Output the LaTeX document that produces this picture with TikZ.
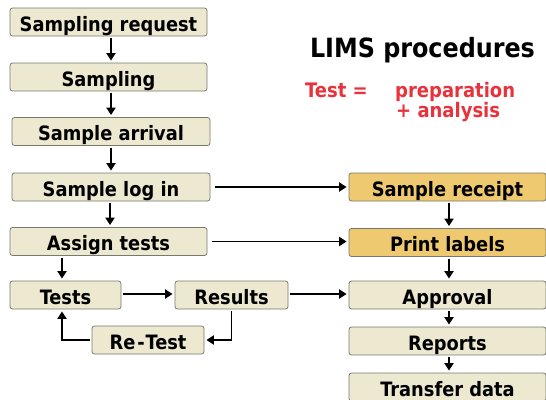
\documentclass[tikz,border=0pt]{standalone}
\usepackage{fontspec}
\setmainfont{DejaVu Sans Condensed}
\usetikzlibrary{arrows.meta}
\definecolor{beige}{RGB}{236,233,208}
\definecolor{gold}{RGB}{238,201,112}
\definecolor{bordergray}{RGB}{120,120,110}
\definecolor{redtxt}{RGB}{232,50,60}
\begin{document}
\begin{tikzpicture}[x=1pt,y=-1pt,
  box/.style={draw=bordergray, line width=0.8pt, rounded corners=2.5pt, fill=beige,
    minimum height=28pt, inner sep=0pt, text height=18.5pt, text depth=0pt,
    font=\fontsize{19.8}{19.8}\selectfont\bfseries},
  goldbox/.style={box, fill=gold},
  redlabel/.style={anchor=base west, inner sep=0pt, text=redtxt, font=\fontsize{20}{20}\selectfont\bfseries},
  arr/.style={line width=1.9pt, -{Triangle[length=7.5pt,width=9pt]}, shorten >=2pt, shorten <=2pt},
  arrh/.style={arr, shorten <=5pt}
]
\useasboundingbox (0,0) rectangle (546,399);
% left column
\node[box, minimum width=197pt] (sr) at (108.5,22) {Sampling request};
\node[box, minimum width=197pt] (s) at (108.5,77) {Sampling};
\node[box, minimum width=198pt] (sa) at (111,131.5) {Sample arrival};
\node[box, minimum width=198pt] (sl) at (111,187) {Sample log in};
\node[box, minimum width=197pt] (at) at (108.5,241.5) {Assign tests};
\node[box, minimum width=111pt] (tests) at (65.5,295) {Tests};
\node[box, minimum width=113pt] (results) at (231.5,295) {Results};
\node[box, minimum width=112pt] (retest) at (148,340) {Re\kern2pt-\kern1pt Test};
% right column
\node[goldbox, minimum width=197pt] (srec) at (447.5,187) {Sample receipt};
\node[goldbox, minimum width=197pt] (pl) at (447.5,242.5) {Print labels};
\node[box, minimum width=197pt] (ap) at (447.5,295) {Approval};
\node[box, minimum width=197pt] (rep) at (447.5,341) {Reports};
\node[box, minimum width=197pt] (td) at (447.5,387) {Transfer data};
% title and note
\node[anchor=base, inner sep=0pt, font=\fontsize{26.5}{26.5}\selectfont\bfseries] (title) at (422.5,57) {LIMS procedures};
\node[redlabel] (testeq) at (305,97) {Test =};
\node[redlabel] (prep) at (395,97) {preparation};
\node[redlabel] (anal) at (396,117) {+ analysis};
% vertical arrows left
\draw[arr] ([xshift=2.5pt]sr.south) -- ([xshift=2.5pt]s.north);
\draw[arr] ([xshift=2.5pt]s.south) -- ([xshift=2.5pt]s.south |- sa.north);
\draw[arr] (sa.south) -- (sl.north);
\draw[arr] ([xshift=-1pt]sl.south) -- ([xshift=-1pt]sl.south |- at.north);
\draw[arr] ([xshift=-3.5pt]tests.north |- at.south) -- ([xshift=-3.5pt]tests.north);
% horizontal
\draw[arrh] (sl.east) -- (sl.east -| srec.west);
\draw[arrh] (at.east) -- (at.east -| pl.west);
\draw[arr] ([yshift=1pt]tests.east) -- ([yshift=1pt]tests.east -| results.west);
\draw[arr] ([yshift=1pt]results.east) -- ([yshift=1pt]results.east -| ap.west);
% retest loop
\draw[arr, line join=miter] (results.south) |- (retest.east);
\draw[arr, line join=miter] (retest.west) -| ([xshift=-3.5pt]tests.south);
% right vertical arrows
\draw[arr] ([xshift=1.5pt]srec.south) -- ([xshift=1.5pt]pl.north);
\draw[arr] ([xshift=1.5pt]pl.south) -- ([xshift=1.5pt]ap.north);
\draw[arr] ([xshift=1.5pt]ap.south) -- ([xshift=1.5pt]rep.north);
\draw[arr] ([xshift=1.5pt]rep.south) -- ([xshift=1.5pt]td.north);
\end{tikzpicture}
\end{document}
